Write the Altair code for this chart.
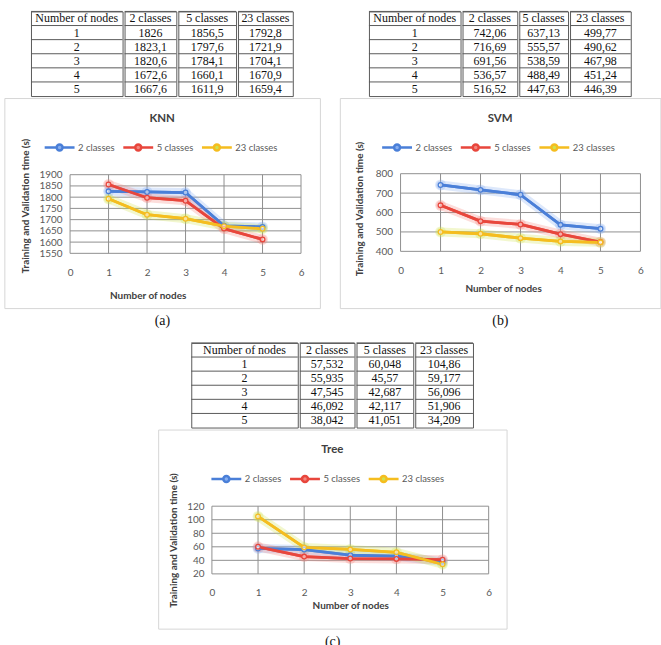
import altair as alt
import pandas as pd

# ---------------- data ----------------
nodes = [1, 2, 3, 4, 5]
series_names = ["2 classes", "5 classes", "23 classes"]
header = ["Number of nodes", "2 classes", "5 classes", "23 classes"]
panel_labels = ["(a)", "(b)", "(c)"]
chart_titles = ["KNN", "SVM", "Tree"]

knn_2 = [1826, 1823.1, 1820.6, 1672.6, 1667.6]
knn_5 = [1856.5, 1797.6, 1784.1, 1660.1, 1611.9]
knn_23 = [1792.8, 1721.9, 1704.1, 1670.9, 1659.4]

svm_2 = [742.06, 716.69, 691.56, 536.57, 516.52]
svm_5 = [637.13, 555.57, 538.59, 488.49, 447.63]
svm_23 = [499.77, 490.62, 467.98, 451.24, 446.39]

tree_2 = [57.532, 55.935, 47.545, 46.092, 38.042]
tree_5 = [60.048, 45.57, 42.687, 42.117, 41.051]
tree_23 = [104.86, 59.177, 56.096, 51.906, 34.209]

x_ticks = [0, 1, 2, 3, 4, 5, 6]
knn_y_ticks = [1550, 1600, 1650, 1700, 1750, 1800, 1850, 1900]
svm_y_ticks = [400, 500, 600, 700, 800]
tree_y_ticks = [20, 40, 60, 80, 100, 120]

# ---------------- style ----------------
LINE_COLORS = ["#4a7fd8", "#e8463c", "#f5bd1f"]
GLOW_COLORS = ["#86aef0", "#f3857d", "#cfe24e"]
GRID = "#8f8f8f"
FRAME = "#d6d6d6"
TABLE_LINE = "#5a5a5a"
TXT = "#404040"
LBL = "#595959"
FONT = "Lato"
SERIF = "Liberation Serif"
LEGEND_SYMBOL = ("M-1,0H-0.2M0.2,0H1M-0.2,0A0.2,0.2,0,1,1,0.2,0"
                 "A0.2,0.2,0,1,1,-0.2,0Z")


def fmt(v):
    return str(v).replace(".", ",")


def indep(c):
    return c.resolve_scale(color="independent", stroke="independent",
                           fill="independent").resolve_legend(
        color="independent", stroke="independent", fill="independent")


def make_table(s2, s5, s23, widths):
    cols = [
        [header[0]] + [str(n) for n in nodes],
        [header[1]] + [fmt(v) for v in s2],
        [header[2]] + [fmt(v) for v in s5],
        [header[3]] + [fmt(v) for v in s23],
    ]
    charts = []
    for col, w in zip(cols, widths):
        df = pd.DataFrame({"row": list(range(len(col))), "txt": col})
        band = alt.Scale(type="band", paddingInner=0, paddingOuter=0)
        txt = alt.Chart(df).mark_text(font=SERIF, fontSize=12, color="#111111").encode(
            y=alt.Y("row:O", scale=band, axis=None),
            text="txt:N",
        )
        rules = alt.Chart(df).mark_rule(color=TABLE_LINE, strokeWidth=1).encode(
            y=alt.Y("row:O", scale=band, axis=None, bandPosition=0),
        )
        c = alt.layer(rules, txt).properties(
            width=w, height=85,
            view=alt.ViewBackground(stroke=TABLE_LINE, strokeWidth=1, fill="white"))
        charts.append(c)
    return alt.hconcat(*charts, spacing=0)


def make_chart(title, s2, s5, s23, yticks, W, H, pl, pr, pt, pb, legx, xt, yt):
    df = pd.DataFrame({
        "nodes": nodes * 3,
        "series": [series_names[0]] * 5 + [series_names[1]] * 5 + [series_names[2]] * 5,
        "value": s2 + s5 + s23,
    })
    xs = alt.Scale(domain=[x_ticks[0], x_ticks[-1]], range=[pl, pr], nice=False, zero=False)
    ys = alt.Scale(domain=[yticks[0], yticks[-1]], range=[pb, pt], nice=False, zero=False)
    cs = alt.Scale(domain=series_names, range=LINE_COLORS)
    gs = alt.Scale(domain=series_names, range=GLOW_COLORS)

    xaxis = alt.Axis(values=x_ticks, format="d", offset=pb - H, grid=False,
                     domain=False, ticks=False, tickSize=0, labelPadding=14,
                     labelFlush=False, labelOverlap=False, labelFont=FONT,
                     labelFontSize=10, labelColor=LBL, title="Number of nodes",
                     titleFont=FONT, titleFontSize=10, titleFontWeight="bold",
                     titleColor=TXT, titleX=xt[0], titleY=xt[1] - pb,
                     titleBaseline="middle", titleAlign="center")
    yaxis = alt.Axis(values=yticks, format="d", offset=-pl, grid=False,
                     domain=False, ticks=False, tickSize=0, labelPadding=8,
                     labelFlush=False, labelOverlap=False, labelFont=FONT,
                     labelFontSize=10, labelColor=LBL,
                     title="Training and Validation time (s)",
                     titleFont=FONT, titleFontSize=10, titleFontWeight="bold",
                     titleColor=TXT, titleX=yt[0] - pl, titleY=yt[1],
                     titleAngle=270, titleBaseline="middle", titleAlign="center",
                     titleLimit=400)
    legend = alt.Legend(orient="none", legendX=legx, legendY=33,
                        direction="horizontal", title=None,
                        symbolType=LEGEND_SYMBOL, symbolSize=900,
                        symbolStrokeWidth=2.5, labelFont=FONT,
                        labelFontSize=9.5, labelColor=LBL,
                        labelOffset=2, columnPadding=3)

    def X(f):
        return alt.X(f, scale=xs, axis=xaxis)

    def Y(f):
        return alt.Y(f, scale=ys, axis=yaxis)

    base = alt.Chart(df)
    line = base.mark_line(strokeWidth=2.8, strokeJoin="round").encode(
        x=X("nodes:Q"), y=Y("value:Q"),
        color=alt.Color("series:N", scale=cs, legend=legend),
    )
    hgrid = alt.Chart(pd.DataFrame({"v": yticks})).mark_rule(color=GRID, strokeWidth=1).encode(
        y=Y("v:Q"),
        x=alt.XDatum(x_ticks[0], scale=xs, axis=xaxis),
        x2=alt.X2Datum(x_ticks[-1]),
    )
    vgrid = alt.Chart(pd.DataFrame({"v": x_ticks})).mark_rule(color=GRID, strokeWidth=1).encode(
        x=X("v:Q"),
        y=alt.YDatum(yticks[0], scale=ys, axis=yaxis),
        y2=alt.Y2Datum(yticks[-1]),
    )
    glow = base.mark_line(strokeWidth=9, opacity=0.28, strokeCap="round", strokeJoin="round").encode(
        x=X("nodes:Q"), y=Y("value:Q"),
        stroke=alt.Stroke("series:N", scale=gs, legend=None),
    )
    pglow = base.mark_circle(size=120, opacity=0.28).encode(
        x=X("nodes:Q"), y=Y("value:Q"),
        fill=alt.Fill("series:N", scale=gs, legend=None),
    )
    pts = base.mark_point(shape="circle", size=22, filled=False, strokeWidth=1.3,
                          fill="white", fillOpacity=0.55, opacity=1).encode(
        x=X("nodes:Q"), y=Y("value:Q"),
        color=alt.Color("series:N", scale=cs, legend=legend),
    )
    ttl = alt.Chart(pd.DataFrame({"t": [title]})).mark_text(
        font=FONT, fontSize=11.5, fontWeight="bold", color=TXT, baseline="middle"
    ).encode(text="t:N", x=alt.value(W / 2), y=alt.value(21))
    return alt.layer(line, vgrid, hgrid, glow, pglow, line, pts, ttl).properties(
        width=W, height=H,
        view=alt.ViewBackground(stroke=FRAME, strokeWidth=1, fill="white"),
    )


def make_label(text, W):
    return alt.Chart(pd.DataFrame({"t": [text]})).mark_text(
        font=SERIF, fontSize=14, color="#111111").encode(text="t:N").properties(
        width=W, height=24, view=alt.ViewBackground(stroke=None, fill=None))


def panel(table, chart, label, W):
    return indep(alt.vconcat(table, chart, make_label(label, W), spacing=0, center=True))


panel_a = panel(
    make_table(knn_2, knn_5, knn_23, [92, 52, 58, 55]),
    make_chart(chart_titles[0], knn_2, knn_5, knn_23, knn_y_ticks,
               317, 211, 66, 298, 77, 156, 39, (144, 198), (21, 108)),
    panel_labels[0], 317,
)
panel_b = panel(
    make_table(svm_2, svm_5, svm_23, [92, 55, 49, 61]),
    make_chart(chart_titles[1], svm_2, svm_5, svm_23, svm_y_ticks,
               322, 211, 61, 302, 76, 154, 41, (164, 191), (20, 111)),
    panel_labels[1], 322,
)
panel_c = panel(
    make_table(tree_2, tree_5, tree_23, [107, 55, 57, 58]),
    make_chart(chart_titles[2], tree_2, tree_5, tree_23, tree_y_ticks,
               350, 200, 54, 332, 77, 145, 52, (193, 177), (15, 111)),
    panel_labels[2], 350,
)

chart = indep(alt.vconcat(
    indep(alt.hconcat(panel_a, panel_b, spacing=18)),
    panel_c,
    spacing=9, center=True,
)).properties(
    padding={"left": 3, "top": 9, "right": 0, "bottom": 0},
    background="white",
)

chart.save("out.html", embed_options={"renderer": "svg", "actions": False})
